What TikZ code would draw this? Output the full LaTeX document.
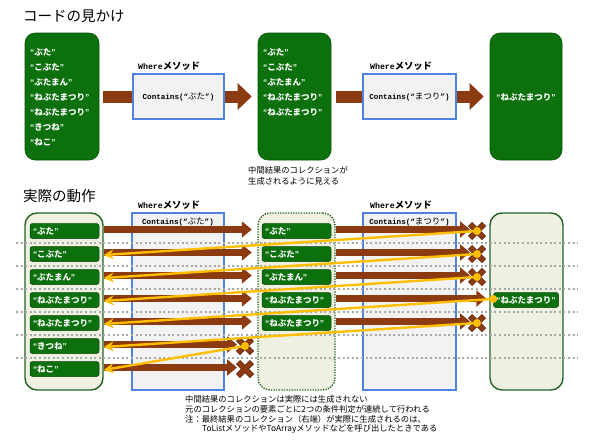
\documentclass[tikz,border=0pt]{standalone}
\usepackage{fontspec}
\setmainfont{Noto Sans CJK JP}
\newfontfamily\monof{Liberation Mono}
\newfontfamily\latf{Liberation Sans}
\usetikzlibrary{arrows.meta,calc}
\definecolor{grn}{RGB}{12,112,12}
\definecolor{dgrn}{RGB}{38,98,38}
\definecolor{lgrn}{RGB}{238,241,226}
\definecolor{brn}{RGB}{140,58,16}
\definecolor{dbrn}{RGB}{96,36,6}
\definecolor{yel}{RGB}{255,190,0}
\definecolor{blu}{RGB}{80,130,225}
\definecolor{wfill}{RGB}{242,242,242}
\definecolor{dotc}{RGB}{168,168,168}
\newcommand\qt[1]{{\latf\bfseries “}#1{\latf\bfseries ”}}
\newcommand\fsz[1]{\fontsize{#1}{#1}\selectfont}
\newcommand\mo[1]{{\monof\bfseries\fontsize{7.6}{8}\selectfont #1}}
\newcommand\mob[1]{{\monof\bfseries\fontsize{8.2}{8}\selectfont #1}}
\begin{document}
\begin{tikzpicture}[x=1pt,y=-1pt,
 bigbox/.style={fill=grn, draw=grn!75!black, line width=0.6pt, rounded corners=10pt, inner sep=0pt},
 wbox/.style={fill=wfill, draw=blu, line width=1.2pt, inner sep=0pt},
 ttl/.style={anchor=west, inner sep=0pt, font=\fsz{14.5}},
 wlab/.style={anchor=west, inner sep=0pt, font=\fsz{9.3}\bfseries},
 ctext/.style={inner sep=0pt, font=\fsz{8.5}},
 itm/.style={anchor=west, inner sep=0pt, text=white, font=\fsz{8.5}\bfseries},
 captxt/.style={anchor=west, inner sep=0pt, font=\fsz{8.3}},
 bigarr/.style={draw=brn, line width=12pt, -{Triangle[length=14pt,width=26pt]}},
 coll/.style={fill=lgrn, draw=dgrn, line width=1.4pt, rounded corners=12pt, inner sep=0pt, minimum width=78pt, minimum height=177pt},
 chip/.style={fill=grn, draw=grn!60!black, line width=0.5pt, rounded corners=2.5pt, text=white, font=\fsz{8.5}\bfseries, inner xsep=3pt, inner ysep=0pt, text width=63pt, align=left, minimum height=15pt},
 dotl/.style={draw=dotc, line width=2pt, dash pattern=on 2pt off 2.6pt},
 barr/.style={draw=brn, line width=7pt, -{Triangle[length=10pt,width=16pt]}},
 xo/.style={draw=dbrn, line width=6pt},
 xi/.style={draw=brn, line width=4.4pt},
 yarr/.style={draw=yel, line width=2.4pt, -{Stealth[length=10pt,width=10pt]}}
]
\fill[white] (0,0) rectangle (590,442);
\useasboundingbox (0,0) rectangle (590,442);

% ---------- top section ----------
\node[ttl] (t1) at (23,16) {コードの見かけ};
\node[bigbox, minimum width=74pt, minimum height=127pt] (TL) at (62,96.5) {};
\node[bigbox, minimum width=73pt, minimum height=127pt] (TM) at (294.5,96.5) {};
\node[bigbox, minimum width=72pt, minimum height=127pt] (TR) at (526,96.5) {};
\foreach \t [count=\i] in {ぶた,こぶた,ぶたまん,ねぶたまつり,ねぶたまつり,きつね,ねこ}
  \node[itm] (tl\i) at (30,37+15*\i) {\qt{\t}};
\foreach \t [count=\i] in {ぶた,こぶた,ぶたまん,ねぶたまつり,ねぶたまつり}
  \node[itm] (tm\i) at (263,37+15*\i) {\qt{\t}};
\node[itm, anchor=center] (tr1) at (526,97) {\qt{ねぶたまつり}};

\draw[bigarr, shorten <=4pt, shorten >=6pt] (TL.east) -- (TM.west);
\draw[bigarr, shorten <=5pt, shorten >=6pt] (TM.east) -- (TR.west);

\node[wbox, minimum width=91pt, minimum height=45pt, font=\fsz{8.5}] (TW1) at (178.5,96.5) {\mo{Contains(“}ぶた\mo{”)}};
\node[wbox, minimum width=93pt, minimum height=45pt, font=\fsz{8.5}] (TW2) at (409.5,96.5) {\mo{Contains(“}まつり\mo{”)}};
\node[wlab] (tw1l) at (138,66) {\mob{Where}メソッド};
\node[wlab] (tw2l) at (370,66) {\mob{Where}メソッド};

\node[captxt] (c1) at (248,170) {中間結果のコレクションが};
\node[captxt] (c2) at (248,181) {生成されるように見える};

% ---------- bottom section ----------
\node[ttl] (t2) at (23,196) {実際の動作};
\node[wlab] (bw1l) at (138,205) {\mob{Where}メソッド};
\node[wlab] (bw2l) at (370,205) {\mob{Where}メソッド};

\node[coll] (BL) at (64,301.5) {};
\node[coll, minimum width=77pt, dash pattern=on 1.3pt off 1.3pt] (BM) at (296.5,301.5) {};
\node[coll, minimum width=73pt] (BR) at (526.5,301.5) {};
\node[wbox, minimum width=92pt, minimum height=177pt] (BW1) at (178,301.5) {};
\node[wbox, minimum width=93pt, minimum height=177pt] (BW2) at (409.5,301.5) {};
\node[ctext] (bc1) at (178,222) {\mo{Contains(“}ぶた\mo{”)}};
\node[ctext] (bc2) at (409.5,222) {\mo{Contains(“}まつり\mo{”)}};

\foreach \y in {242.5,265.5,288.5,311.5,334.5,357.5}
  \draw[dotl] (16,\y) -- (578,\y);

\foreach \t [count=\i] in {ぶた,こぶた,ぶたまん,ねぶたまつり,ねぶたまつり,きつね,ねこ}
  \node[chip] (l\i) at (64.5,208+23*\i) {\qt{\t}};
\foreach \t [count=\i] in {ぶた,こぶた,ぶたまん,ねぶたまつり,ねぶたまつり}
  \node[chip] (m\i) at (296.5,208+23*\i) {\qt{\t}};
\node[chip, text width=62pt, inner xsep=1.5pt, align=center] (r4) at (526,300) {\qt{ねぶたまつり}};

\coordinate (x1) at (477,231);
\coordinate (x2) at (477,254);
\coordinate (x3) at (477,277);
\coordinate (x5) at (477,323);
\coordinate (x6) at (245,346);
\coordinate (x7) at (245,369);

% stage 1 arrows
\foreach \i in {1,...,5}
  \draw[barr, shorten >=10pt] ($(BL.east|-l\i)+(0,-1.5)$) -- ($(m\i.west)+(0,-1.5)$);
\foreach \i in {6,7}
  \draw[barr] ($(BL.east|-l\i)+(0,-1.5)$) -- ($(x\i)+(-8,-1.5)$);
% stage 2 arrows
\foreach \i in {1,2,3,5}
  \draw[barr] ($(BM.east|-m\i)+(0,-1.5)$) -- ($(x\i)+(-7,-1.5)$);
\draw[barr, shorten >=7pt] ($(BM.east|-m4)+(0,-1.5)$) -- ($(r4.west)+(0,-1.5)$);

% crosses
\foreach \i in {1,2,3,5,6,7}{
  \draw[xo] ($(x\i)+(-7,-7)$) -- ($(x\i)+(7,7)$) ($(x\i)+(-7,7)$) -- ($(x\i)+(7,-7)$);
  \draw[xi] ($(x\i)+(-6.5,-6.5)$) -- ($(x\i)+(6.5,6.5)$) ($(x\i)+(-6.5,6.5)$) -- ($(x\i)+(6.5,-6.5)$);
}

% yellow return arrows
\draw[yarr] (x1) -- ($(BL.east|-l2)+(0,1)$);
\draw[yarr] (x2) -- ($(BL.east|-l3)+(0,1)$);
\draw[yarr] (x3) -- ($(BL.east|-l4)+(0,1)$);
\draw[yarr] ($(r4.west)+(0,-1)$) -- ($(BL.east|-l5)+(0,1)$);
\draw[yarr] (x5) -- ($(BL.east|-l6)+(0,1)$);
\draw[yarr] (x6) -- ($(BL.east|-l7)+(0,1)$);
\foreach \p in {x1,x2,x3,x5,x6}
  \fill[yel] (\p) circle (4pt);
\fill[yel] ($(r4.west)+(0,-1)$) circle (4pt);

% captions
\node[captxt] (n1) at (185,399) {中間結果のコレクションは実際には生成されない};
\node[captxt] (n2) at (185,409) {元のコレクションの要素ごとに2つの条件判定が連続して行われる};
\node[captxt] (n3) at (185,419) {注：最終結果のコレクション（右端）が実際に生成されるのは、};
\node[captxt] (n4) at (202,429) {ToListメソッドやToArrayメソッドなどを呼び出したときである};
\end{tikzpicture}
\end{document}
